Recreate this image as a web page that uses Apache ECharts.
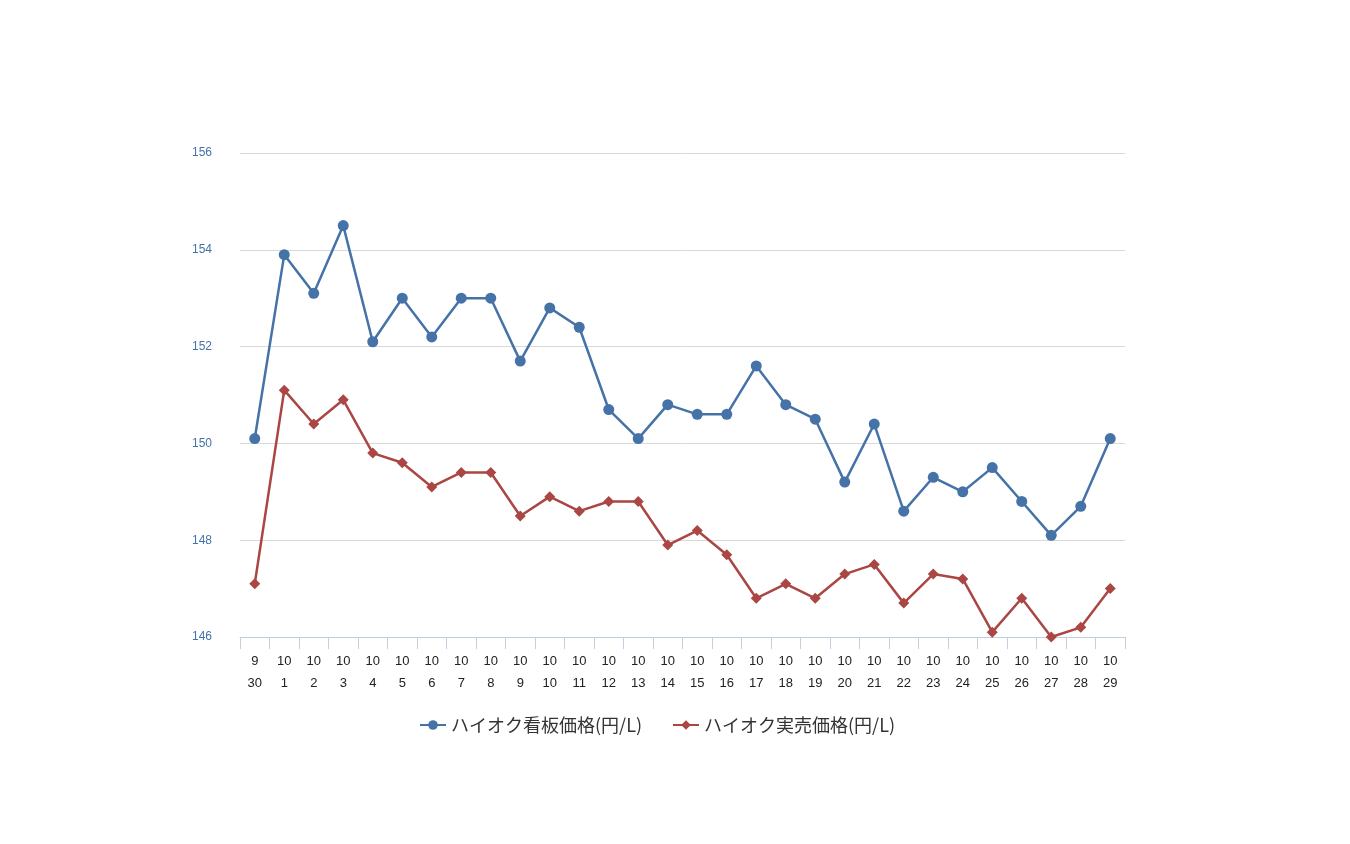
<!DOCTYPE html>
<html>
<head>
<meta charset="utf-8">
<script src="https://cdn.jsdelivr.net/npm/echarts@6/dist/echarts.min.js"></script>
<style>html,body{margin:0;padding:0;background:#fff}#c{width:1350px;height:844px}</style>
</head>
<body>
<div id="c"></div>
<script>
const months = [9,10,10,10,10,10,10,10,10,10,10,10,10,10,10,10,10,10,10,10,10,10,10,10,10,10,10,10,10,10];
const days = [30,1,2,3,4,5,6,7,8,9,10,11,12,13,14,15,16,17,18,19,20,21,22,23,24,25,26,27,28,29];
const seriesNames = ['ハイオク看板価格(円/L)', 'ハイオク実売価格(円/L)'];
const signPrice = [150.1,153.9,153.1,154.5,152.1,153.0,152.2,153.0,153.0,151.7,152.8,152.4,150.7,150.1,150.8,150.6,150.6,151.6,150.8,150.5,149.2,150.4,148.6,149.3,149.0,149.5,148.8,148.1,148.7,150.1];
const actualPrice = [147.1,151.1,150.4,150.9,149.8,149.6,149.1,149.4,149.4,148.5,148.9,148.6,148.8,148.8,147.9,148.2,147.7,146.8,147.1,146.8,147.3,147.5,146.7,147.3,147.2,146.1,146.8,146.0,146.2,147.0];
const yTicks = {min:146, max:156, interval:2};

const categories = months.map((m,i)=> m + '\n' + days[i]);
const chart = echarts.init(document.getElementById('c'));
chart.setOption({
  animation:false,
  backgroundColor:'#fff',
  grid:{left:240, right:225, top:153, bottom:207},
  legend:{
    top:711, left:414,
    itemGap:30, itemWidth:26, itemHeight:12,
    textStyle:{fontSize:18, color:'#333', fontFamily:'Noto Sans CJK JP'},
    data:seriesNames
  },
  xAxis:{
    type:'category', data:categories, boundaryGap:true,
    axisLine:{lineStyle:{color:'#c0d0e0', width:1}},
    axisTick:{show:true, length:12, lineStyle:{color:'#c0d0e0'}},
    axisLabel:{color:'#222', fontSize:13, lineHeight:22, margin:13, interval:0, fontFamily:'Liberation Sans'}
  },
  yAxis:{
    type:'value', min:yTicks.min, max:yTicks.max, interval:yTicks.interval,
    axisLine:{show:false}, axisTick:{show:false},
    axisLabel:{color:'#4572A7', fontSize:12, align:'left', margin:48, fontFamily:'Liberation Sans'},
    splitLine:{lineStyle:{color:'#d8d8d8', width:1}}
  },
  series:[
    {name:seriesNames[0], type:'line', data:signPrice, symbol:'circle', symbolSize:11,
     itemStyle:{color:'#4572A7'}, lineStyle:{color:'#4572A7', width:2.5}},
    {name:seriesNames[1], type:'line', data:actualPrice, symbol:'diamond', symbolSize:11,
     itemStyle:{color:'#AA4643'}, lineStyle:{color:'#AA4643', width:2.5}}
  ]
});
</script>
</body>
</html>
